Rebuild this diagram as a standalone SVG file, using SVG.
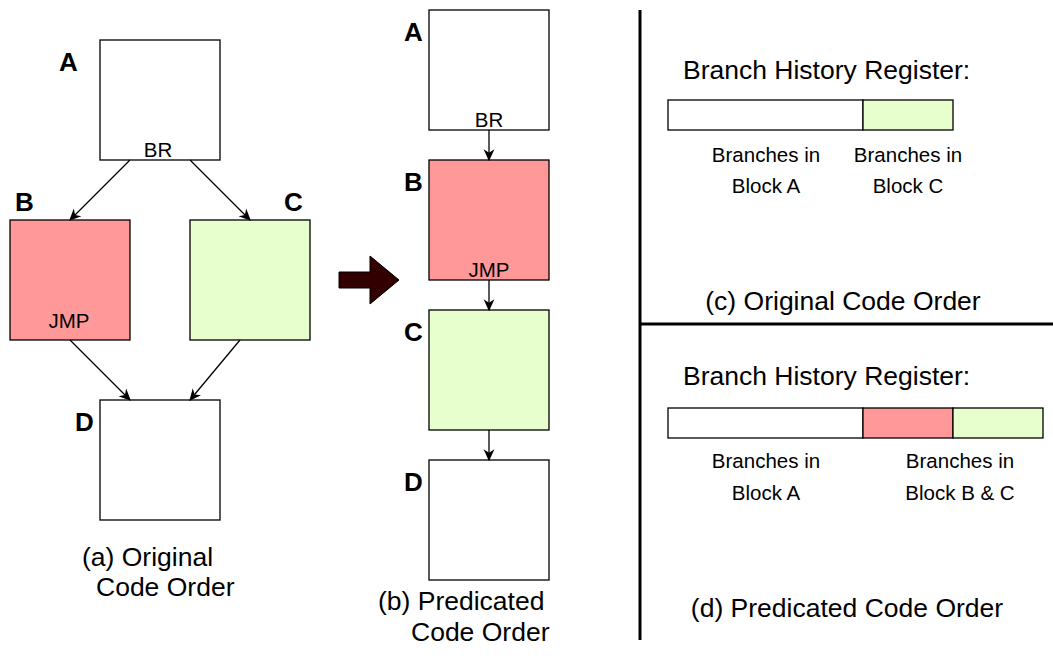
<svg xmlns="http://www.w3.org/2000/svg" width="1053" height="656" viewBox="0 0 1053 656">
<defs>
<marker id="ah" viewBox="0 0 10 10" refX="9" refY="5" markerWidth="12" markerHeight="12" markerUnits="userSpaceOnUse" orient="auto">
<path d="M0,0.5 L10,5 L0,9.5 L3,5 z" fill="#000"/>
</marker>
<style>
.box{stroke:#000;stroke-width:1.3}
.w{fill:#fff}.r{fill:#ff9999}.g{fill:#e6ffcc}
.lbl{font-family:"Liberation Sans",Arial,sans-serif;font-weight:bold;font-size:26px;fill:#000}
.sm{font-family:"Liberation Sans",Arial,sans-serif;font-size:20.5px;fill:#000;text-anchor:middle}
.cap{font-family:"Liberation Sans",Arial,sans-serif;font-size:26.5px;fill:#000}
.con{stroke:#000;stroke-width:1.3;fill:none;marker-end:url(#ah)}
</style>
</defs>
<rect width="1053" height="656" fill="#fff"/>
<g id="a-A"><rect class="box w" x="100" y="40" width="120" height="120"/><text class="lbl" x="59" y="71">A</text><text class="sm" x="158" y="157">BR</text></g>
<g id="a-B"><rect class="box r" x="10" y="220" width="120" height="120"/><text class="lbl" x="15" y="211">B</text><text class="sm" x="69" y="328">JMP</text></g>
<g id="a-C"><rect class="box g" x="190" y="220" width="120" height="120"/><text class="lbl" x="284" y="211">C</text></g>
<g id="a-D"><rect class="box w" x="100" y="400" width="120" height="120"/><text class="lbl" x="75" y="431">D</text></g>
<g id="b-A"><rect class="box w" x="429" y="10" width="120" height="120"/><text class="lbl" x="404" y="41">A</text><text class="sm" x="489" y="127">BR</text></g>
<g id="b-B"><rect class="box r" x="429" y="160" width="120" height="120"/><text class="lbl" x="404" y="191">B</text><text class="sm" x="489" y="277">JMP</text></g>
<g id="b-C"><rect class="box g" x="429" y="310" width="120" height="120"/><text class="lbl" x="404" y="341">C</text></g>
<g id="b-D"><rect class="box w" x="429" y="460" width="120" height="120"/><text class="lbl" x="404" y="491">D</text></g>
<g id="connectors">
<line class="con" x1="130" y1="160" x2="70" y2="220"/>
<line class="con" x1="190" y1="160" x2="250" y2="220"/>
<line class="con" x1="70" y1="340" x2="130" y2="400"/>
<line class="con" x1="240" y1="340" x2="190" y2="400"/>
<line class="con" x1="489" y1="130" x2="489" y2="160"/>
<line class="con" x1="489" y1="280" x2="489" y2="310"/>
<line class="con" x1="489" y1="430" x2="489" y2="460"/>
</g>
<path id="bigarrow" d="M339,272 L370,272 L370,256 L399,280 L370,304 L370,288 L339,288 z" fill="#330000" stroke="#000" stroke-width="1"/>
<text class="cap" x="82" y="566">(a) Original</text>
<text class="cap" x="96" y="596">Code Order</text>
<text class="cap" x="378" y="610">(b) Predicated</text>
<text class="cap" x="411" y="641">Code Order</text>
<line x1="640" y1="10" x2="640" y2="640" stroke="#000" stroke-width="3"/>
<line x1="640" y1="324" x2="1053" y2="324" stroke="#000" stroke-width="3"/>
<g id="bhr-c">
<text class="cap" x="683" y="79">Branch History Register:</text>
<rect class="box w" x="668" y="100" width="195" height="30"/>
<rect class="box g" x="863" y="100" width="90" height="30"/>
<text class="sm" x="766" y="162">Branches in</text>
<text class="sm" x="766" y="193">Block A</text>
<text class="sm" x="908" y="162">Branches in</text>
<text class="sm" x="908" y="193">Block C</text>
<text class="cap" x="843" y="310" text-anchor="middle">(c) Original Code Order</text>
</g>
<g id="bhr-d">
<text class="cap" x="683" y="385">Branch History Register:</text>
<rect class="box w" x="668" y="408" width="195" height="30"/>
<rect class="box r" x="863" y="408" width="90" height="30"/>
<rect class="box g" x="953" y="408" width="90" height="30"/>
<text class="sm" x="766" y="468">Branches in</text>
<text class="sm" x="766" y="500">Block A</text>
<text class="sm" x="960" y="468">Branches in</text>
<text class="sm" x="960" y="500">Block B &amp; C</text>
<text class="cap" x="847" y="617" text-anchor="middle">(d) Predicated Code Order</text>
</g>
</svg>
